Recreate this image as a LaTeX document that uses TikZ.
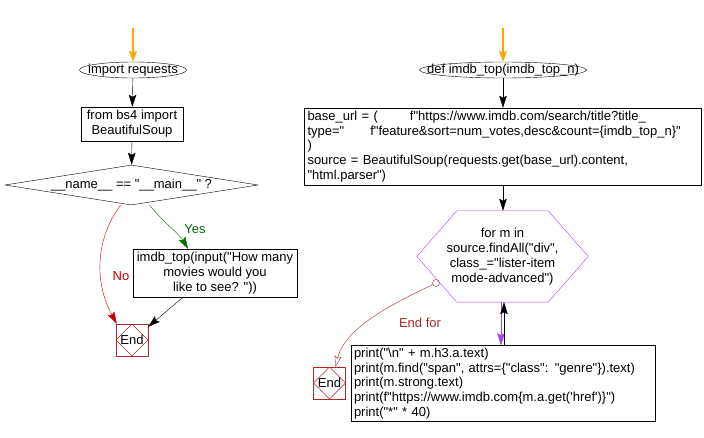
\documentclass[tikz,border=0pt]{standalone}
\usepackage{fontspec}
\setmainfont{Liberation Sans}[Ligatures=TeXOff]
\usetikzlibrary{positioning,arrows.meta,shapes.geometric}

\definecolor{startorange}{RGB}{255,165,0}
\definecolor{loopviolet}{RGB}{170,60,255}
\definecolor{endred}{RGB}{175,40,40}
\definecolor{nored}{RGB}{204,0,0}
\definecolor{yesgreen}{RGB}{0,110,0}

\tikzset{
  every node/.style={font=\fontsize{13}{14.8}\selectfont, inner sep=0pt},
  term/.style={minimum height=16},
  box/.style={draw, fill=white},
  decision/.style={draw, diamond, aspect=6, minimum width=253, minimum height=40},
  endbox/.style={draw=endred, minimum size=32,
    path picture={\draw[endred] (path picture bounding box.north) -- (path picture bounding box.east)
      -- (path picture bounding box.south) -- (path picture bounding box.west) -- cycle;}},
  startarrow/.style={startorange, line width=1.2pt, -{Stealth[length=11pt,width=8pt,inset=2pt]}}
}

\begin{document}
\begin{tikzpicture}[x=1pt,y=-1pt,>={Stealth[length=12pt,width=7.5pt,inset=2pt]}]
\useasboundingbox (0,0) rectangle (704,438);
\fill[white] (0,0) rectangle (704,438);

% main part
\coordinate (startl) at (133,28);
\node (imp) [term] at (133,70) {import requests};
\draw (imp.center) ellipse (53.5 and 8);
\node (bs) [box, minimum width=102, minimum height=34, align=center] at (132,124) {from bs4 import\\BeautifulSoup};
\node (dec) [decision] at (131.5,185) {\_\_name\_\_ == "\_\_main\_\_" ?};
\node (call) [box, minimum width=164, minimum height=48, align=center] at (215,273)
  {imdb\_top(input("How many\\movies would you\\like to see? "))};
\node (endl) [endbox] at (132,340) {End};
\node (nolbl) [nored] at (121,276) {No};
\node (yeslbl) [yesgreen] at (195,229) {Yes};

\draw[startarrow] (startl) -- (imp.north);
\draw[->] (imp) -- (bs);
\draw[->] (bs) -- (dec);
\draw[->, yesgreen] ([xshift=18]dec.south) .. controls +(15,18) and +(-8,-14) .. ([xshift=-27]call.north);
\draw[->, nored] ([xshift=-11]dec.south) .. controls +(-26,35) and +(-22,-40) .. ([xshift=1]endl.north west);
\draw[->] ([xshift=-32]call.south) -- ([yshift=-3]endl.north east);

% function imdb_top
\coordinate (startr) at (503,28);
\node (def) [term] at (503,70) {def imdb\_top(imdb\_top\_n)};
\draw (def.center) ellipse (83.5 and 8);
\node (url) [box, minimum width=397, minimum height=77, text width=391, align=left] at (503,146.5)
  {base\_url = (\kern32pt f"https://www.imdb.com/search/title?title\_\\
   type="\kern26pt f"feature\&sort=num\_votes,desc\&count=\{imdb\_top\_n\}"\\
   )\\
   source = BeautifulSoup(requests.get(base\_url).content,\\
   "html.parser")};
\node (loop) [minimum width=171, minimum height=91, align=center] at (502.5,256.5)
  {for m in\\source.findAll("div",\\class\_="lister-item\\mode-advanced")};
\draw[loopviolet] (loop.west) -- ([xshift=40]loop.north west) -- ([xshift=-40]loop.north east)
  -- (loop.east) -- ([xshift=-40]loop.south east) -- ([xshift=40]loop.south west) -- cycle;
\node (body) [box, minimum width=304, minimum height=76, text width=298, align=left] at (503,383.5)
  {print("\textbackslash n" + m.h3.a.text)\\
   print(m.find("span", attrs=\{"class": "genre"\}).text)\\
   print(m.strong.text)\\
   print(f"https://www.imdb.com\{m.a.get('href')\}")\\
   print("*" * 40)};
\node (endr) [endbox] at (329.5,383) {End};
\node (endforlbl) [endred] at (420,323) {End for};
\coordinate (exit) at (436,283);

\draw[startarrow] (startr) -- (def.north);
\draw[->] (def) -- (url);
\draw[->] (url) -- (url.south |- loop.north);
\draw[->, loopviolet] ([xshift=-1.5]loop.south) -- ([xshift=-1.5]loop.south |- body.north);
\draw[->] ([xshift=1.5]loop.south |- body.north) -- ([xshift=1.5]loop.south);
\draw[endred] (exit) circle (3.5);
\draw[endred, shorten <=3.5pt, -{Stealth[open,length=11pt,width=7pt,inset=2pt]}] (exit)
  .. controls (390,305) and (345,328) .. ([xshift=6]endr.north);
\end{tikzpicture}
\end{document}
